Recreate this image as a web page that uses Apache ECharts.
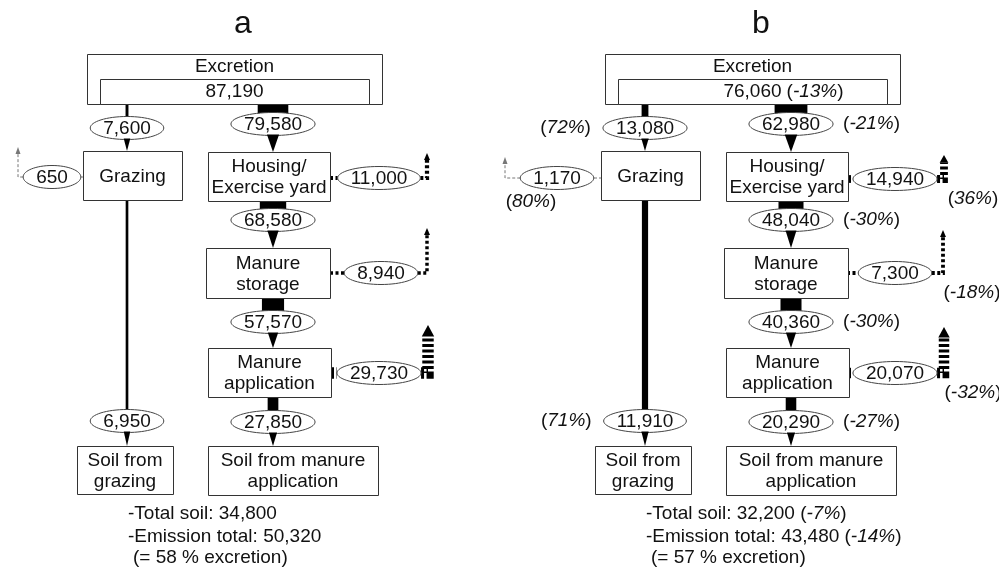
<!DOCTYPE html>
<html>
<head>
<meta charset="utf-8">
<script src="https://cdn.jsdelivr.net/npm/echarts@6/dist/echarts.min.js"></script>
<style>
  html, body { margin: 0; padding: 0; background: #fff; }
  #chart { width: 999px; height: 570px; }
</style>
</head>
<body>
<div id="chart"></div>
<script>
// ---- data ----
const panelNames = ['a', 'b'];
const boxNames = ['Grazing', 'Housing/\nExercise yard', 'Manure\nstorage', 'Manure\napplication', 'Soil from\ngrazing', 'Soil from manure\napplication'];

const excretion = [87190, 76060];
const excretionChange = ['', '-13%'];

// grazing in, housing in, storage in, application in, soil (manure), soil (grazing)
const flowsA = [7600, 79580, 68580, 57570, 27850, 6950];
const flowsB = [13080, 62980, 48040, 40360, 20290, 11910];
const flowChangeB = ['72%', '-21%', '-30%', '-30%', '-27%', '71%'];

// emissions from grazing, housing, storage, application
const emissionsA = [650, 11000, 8940, 29730];
const emissionsB = [1170, 14940, 7300, 20070];
const emissionChangeB = ['80%', '36%', '-18%', '-32%'];

const totalSoil = [34800, 32200];
const totalSoilChange = ['', '-7%'];
const emissionTotal = [50320, 43480];
const emissionTotalChange = ['', '-14%'];
const excretionShare = [58, 57];

// ---- layout (panel a frame, panel b shifted) ----
const panelDx = [0, 518];
const flowScale = [1 / 2600, 1 / 1920]; // px of line width per unit
const excretionOuter = [87, 54, 382, 104];
const excretionInner = [100, 79, 369, 104];
const boxRects = [
  [83, 151, 182, 200],
  [208, 152, 330, 201],
  [206, 248, 330, 298],
  [208, 348, 331, 397],
  [77, 446, 173, 494],
  [208, 446, 378, 495]
];
const flowLayout = [
  { x: 127, y0: 104, cy: 128, y1: 151, side: 'left' },
  { x: 273, y0: 104, cy: 124, y1: 152, side: 'right' },
  { x: 273, y0: 201, cy: 220, y1: 248, side: 'right' },
  { x: 273, y0: 298, cy: 322, y1: 348, side: 'right' },
  { x: 273, y0: 397, cy: 422, y1: 446, side: 'right' },
  { x: 127, y0: 200, cy: 421, y1: 446, side: 'left' }
];
const emissionLayout = [
  [
    { from: 83, cx: 52, y: 177, ax: 18, tip: 147 },
    { from: 330, cx: 379, y: 178, ax: 427, tip: 153 },
    { from: 330, cx: 381, y: 273, ax: 427, tip: 228 },
    { from: 331, cx: 379, y: 373, ax: 428, tip: 325 }
  ],
  [
    { from: 84, cx: 39, y: 178, ax: -13, tip: 157 },
    { from: 330, cx: 377, y: 179, ax: 426, tip: 155 },
    { from: 329, cx: 377, y: 273, ax: 425, tip: 230 },
    { from: 330, cx: 377, y: 373, ax: 426, tip: 327 }
  ]
];

const FONT = '"Liberation Sans", Arial, Helvetica, sans-serif';
const FS = 19;
const INK = '#111';
const EDGE = '#333';
const RY = 11.5;

const fmt = v => v.toLocaleString('en-US');
const measure = document.createElement('canvas').getContext('2d');
function textW(s) {
  measure.font = FS + 'px ' + FONT;
  return measure.measureText(s).width;
}
const rich = {
  n: { fontSize: FS, fontFamily: FONT, fill: INK },
  i: { fontSize: FS, fontFamily: FONT, fontStyle: 'italic', fill: INK }
};
const pct = s => '{n|(}{i|' + s + '}{n|)}';

function txt(x, y, text, align, extra) {
  return {
    type: 'text', x: x, y: y,
    style: Object.assign({
      text: text, fontSize: FS, fontFamily: FONT, fill: INK,
      align: align || 'center', verticalAlign: 'middle', lineHeight: 21, rich: rich
    }, extra || {})
  };
}

function rect(api, r, dx) {
  const p0 = api.coord([r[0] + dx, r[1]]);
  const p1 = api.coord([r[2] + dx, r[3]]);
  return {
    type: 'rect',
    shape: { x: Math.round(p0[0]) + 0.5, y: Math.round(p0[1]) + 0.5, width: Math.round(p1[0] - p0[0]), height: Math.round(p1[1] - p0[1]) },
    style: { fill: '#fff', stroke: EDGE, lineWidth: 1 }
  };
}

function bubble(cx, cy, label) {
  const rx = textW(label) / 2 + 13;
  return {
    rx: rx,
    els: [
      { type: 'ellipse', shape: { cx: cx, cy: cy, rx: rx, ry: RY }, style: { fill: '#fff', stroke: '#444', lineWidth: 1 } },
      txt(cx, cy + 1, label)
    ]
  };
}

function renderFlow(params, api) {
  const p = api.value(0), i = api.value(1), v = api.value(2);
  const L = flowLayout[i];
  const top = api.coord([L.x + panelDx[p], L.y0]);
  const x = top[0], y0 = top[1];
  const cy = api.coord([0, L.cy])[1];
  const y1 = api.coord([0, L.y1])[1];
  const w = Math.max(1.5, v * flowScale[p]);
  const b = bubble(x, cy, fmt(v));
  const aw = 6 + w * 0.2;
  const children = [
    { type: 'line', shape: { x1: x, y1: y0, x2: x, y2: cy }, style: { stroke: '#000', lineWidth: w } }
  ].concat(b.els);
  children.push({ type: 'polygon', shape: { points: [[x - aw / 2, cy + RY - 1], [x + aw / 2, cy + RY - 1], [x, y1]] }, style: { fill: '#000' } });
  if (p === 1) {
    if (L.side === 'right') children.push(txt(x + b.rx + 10, cy, pct(flowChangeB[i]), 'left'));
    else children.push(txt(x - b.rx - 12, cy, pct(flowChangeB[i]), 'right'));
  }
  return { type: 'group', children: children };
}

function renderEmission(params, api) {
  const p = api.value(0), i = api.value(1), v = api.value(2);
  const L = emissionLayout[p][i];
  const dx = panelDx[p];
  const pb = api.coord([L.from + dx, L.y]);
  const bx = pb[0], y = pb[1];
  const cx = api.coord([L.cx + dx, 0])[0];
  const ax = api.coord([L.ax + dx, 0])[0];
  const tip = api.coord([0, L.tip])[1];
  const b = bubble(cx, y, fmt(v));
  const grey = i === 0;
  const w = grey ? 1 : Math.max(1.5, v * flowScale[p]);
  const color = grey ? '#777' : '#000';
  const dash = grey ? [3, 2] : [3, 2.5];
  const side = ax < cx ? -1 : 1;
  const outEdge = cx + side * b.rx;
  const inEdge = cx - side * b.rx;
  const headW = grey ? 5 : Math.max(6, w + 1);
  const headH = grey ? 7 : Math.max(7, w);
  const children = [
    { type: 'line', shape: { x1: bx, y1: y, x2: inEdge, y2: y }, style: { stroke: color, lineWidth: w, lineDash: dash } },
    { type: 'polyline', shape: { points: [[outEdge, y], [ax, y], [ax, tip + headH]] }, style: { stroke: color, lineWidth: w, lineDash: dash, fill: null } },
    { type: 'polygon', shape: { points: [[ax - headW / 2, tip + headH], [ax + headW / 2, tip + headH], [ax, tip]] }, style: { fill: color } }
  ].concat(b.els);
  if (p === 1) {
    if (grey) children.push(txt(cx - 26, y + 24, pct(emissionChangeB[i])));
    else children.push(txt(ax + 29, y + 20, pct(emissionChangeB[i])));
  }
  return { type: 'group', children: children };
}

function renderBox(params, api) {
  const p = api.value(0), i = api.value(1);
  const r = boxRects[i];
  const dx = panelDx[p];
  const c = api.coord([(r[0] + r[2]) / 2 + dx, (r[1] + r[3]) / 2]);
  return { type: 'group', children: [rect(api, r, dx), txt(c[0], c[1] + 1, boxNames[i])] };
}

function renderExcretion(params, api) {
  const p = api.value(0), v = api.value(1);
  const dx = panelDx[p];
  const cx = api.coord([(excretionInner[0] + excretionInner[2]) / 2 + dx, 0])[0];
  const yName = api.coord([0, 67])[1];
  const yVal = api.coord([0, 92])[1];
  const label = fmt(v);
  const children = [
    rect(api, excretionOuter, dx),
    rect(api, excretionInner, dx),
    txt(cx, yName, 'Excretion'),
    txt(cx, yVal, label)
  ];
  if (excretionChange[p]) children.push(txt(cx + textW(label) / 2 + 5, yVal, pct(excretionChange[p]), 'left'));
  return { type: 'group', children: children };
}

function renderNotes(params, api) {
  const p = api.value(0);
  const dx = panelDx[p];
  const t = api.coord([243 + dx, 24]);
  const x0 = api.coord([128 + dx, 0])[0];
  const line1 = '-Total soil: ' + fmt(totalSoil[p]) + (totalSoilChange[p] ? ' ' + pct(totalSoilChange[p]) : '');
  const line2 = '-Emission total: ' + fmt(emissionTotal[p]) + (emissionTotalChange[p] ? ' ' + pct(emissionTotalChange[p]) : '');
  const line3 = '(= ' + excretionShare[p] + ' % excretion)';
  return {
    type: 'group',
    children: [
      txt(t[0], t[1], panelNames[p], 'center', { fontSize: 32, lineHeight: 36 }),
      txt(x0, api.coord([0, 514])[1], line1, 'left'),
      txt(x0, api.coord([0, 537])[1], line2, 'left'),
      txt(x0 + 5, api.coord([0, 558])[1], line3, 'left')
    ]
  };
}

const flowData = [];
[flowsA, flowsB].forEach((arr, p) => arr.forEach((v, i) => flowData.push([p, i, v])));
const emissionData = [];
[emissionsA, emissionsB].forEach((arr, p) => arr.forEach((v, i) => emissionData.push([p, i, v])));
const boxData = [];
panelNames.forEach((n, p) => boxNames.forEach((b, i) => boxData.push([p, i])));
const excretionData = excretion.map((v, p) => [p, v]);
const noteData = panelNames.map((n, p) => [p, 0]);

const chart = echarts.init(document.getElementById('chart'));
chart.setOption({
  animation: false,
  grid: { left: 0, right: 0, top: 0, bottom: 0 },
  xAxis: { type: 'value', min: 0, max: 999, show: false },
  yAxis: { type: 'value', min: 0, max: 570, inverse: true, show: false },
  series: [
    { type: 'custom', name: 'flows', renderItem: renderFlow, data: flowData, clip: false, silent: true },
    { type: 'custom', name: 'emissions', renderItem: renderEmission, data: emissionData, clip: false, silent: true },
    { type: 'custom', name: 'boxes', renderItem: renderBox, data: boxData, clip: false, silent: true },
    { type: 'custom', name: 'excretion', renderItem: renderExcretion, data: excretionData, clip: false, silent: true },
    { type: 'custom', name: 'notes', renderItem: renderNotes, data: noteData, clip: false, silent: true }
  ]
});
</script>
</body>
</html>
